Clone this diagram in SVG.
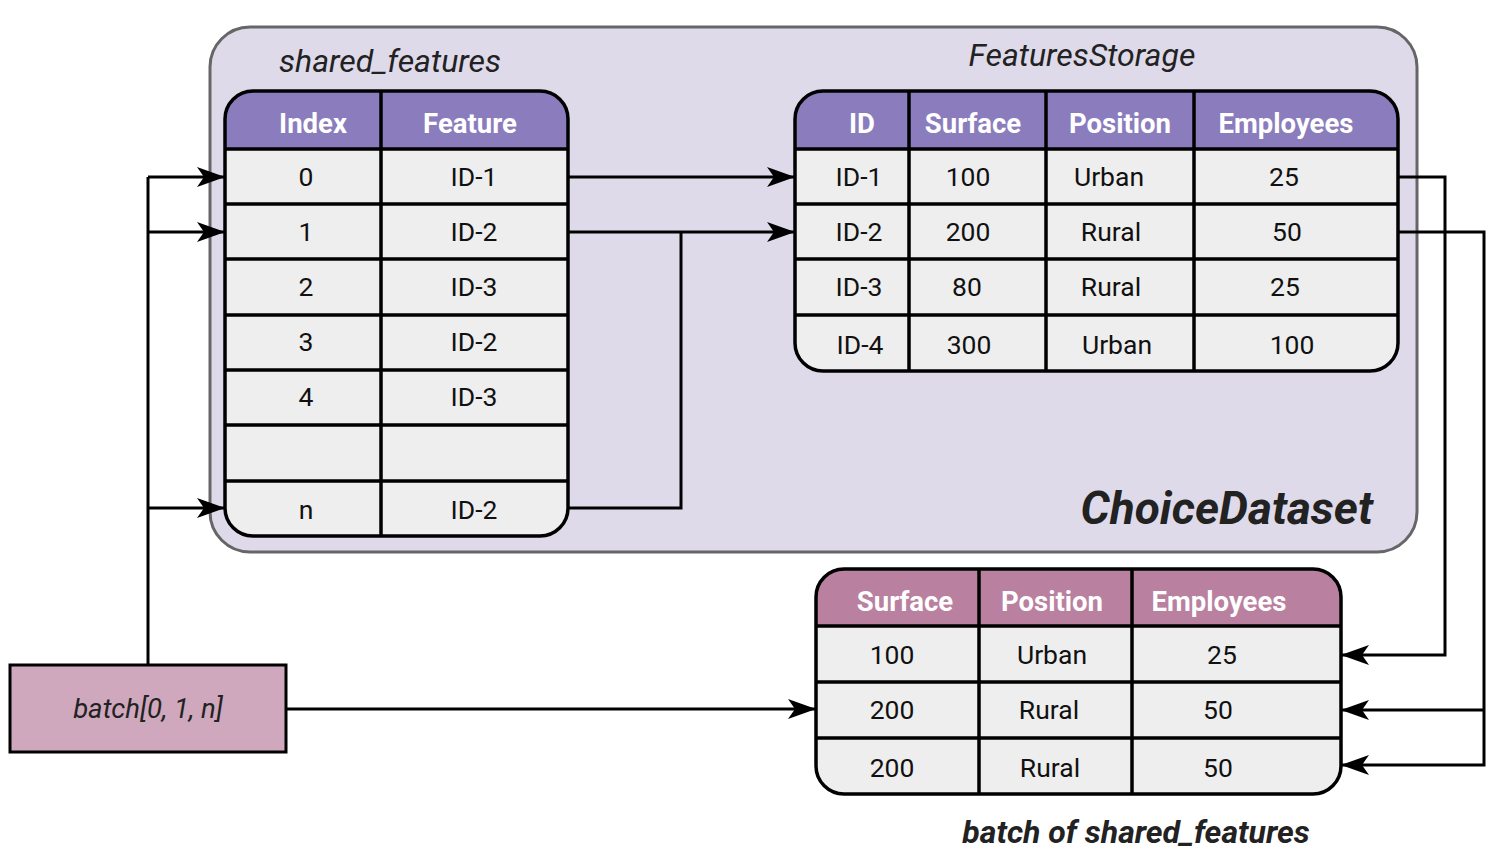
<svg xmlns="http://www.w3.org/2000/svg" width="1508" height="860" viewBox="0 0 1508 860">
<style>
.hd{font-family:Roboto,"Liberation Sans",sans-serif;font-weight:bold;font-size:27.5px;fill:#fff;text-anchor:middle}
.c{font-family:Roboto,"Liberation Sans",sans-serif;font-size:26.5px;fill:#111;text-anchor:middle}
.it{font-family:Roboto,"Liberation Sans",sans-serif;font-style:italic;fill:#222}
.ln{stroke:#000;stroke-width:3.5;fill:none}
.cn{stroke:#000;stroke-width:3;fill:none}
.body{fill:#eeeeee}
.ol{fill:none;stroke:#000;stroke-width:3.5}
</style>
<defs>
<marker id="ah" markerUnits="userSpaceOnUse" markerWidth="30" markerHeight="22" refX="28" refY="11" orient="auto">
<path d="M0,1 L28,11 L0,21 L7,11 Z" fill="#000"/>
</marker>
</defs>

<g id="choicedataset">
<rect x="210" y="27" width="1207" height="525" rx="40" fill="#dedaea" stroke="#666" stroke-width="3"/>
<text class="it" x="390" y="72" font-size="32" text-anchor="middle">shared_features</text>
<text class="it" x="1082" y="66" font-size="32" text-anchor="middle">FeaturesStorage</text>
<text class="it" x="1373" y="524" font-size="46" font-weight="bold" text-anchor="end">ChoiceDataset</text>
</g>

<g id="shared_features">
<rect class="body" x="225" y="91" width="343" height="445" rx="28"/>
<path d="M225,149 V119 A28,28 0 0 1 253,91 H540 A28,28 0 0 1 568,119 V149 Z" fill="#8b7dbd"/>
<path class="ln" d="M381,91 V536 M225,149 H568 M225,204 H568 M225,259 H568 M225,315 H568 M225,370 H568 M225,425 H568 M225,481 H568"/>
<rect class="ol" x="225" y="91" width="343" height="445" rx="28"/>
<text class="hd" x="313" y="133">Index</text>
<text class="hd" x="470" y="133">Feature</text>
<text class="c" x="306" y="186">0</text><text class="c" x="474" y="186">ID-1</text>
<text class="c" x="306" y="241">1</text><text class="c" x="474" y="241">ID-2</text>
<text class="c" x="306" y="296">2</text><text class="c" x="474" y="296">ID-3</text>
<text class="c" x="306" y="351">3</text><text class="c" x="474" y="351">ID-2</text>
<text class="c" x="306" y="406">4</text><text class="c" x="474" y="406">ID-3</text>
<text class="c" x="306" y="519">n</text><text class="c" x="474" y="519">ID-2</text>
</g>

<g id="features_storage">
<rect class="body" x="795" y="91" width="603" height="280" rx="28"/>
<path d="M795,149 V119 A28,28 0 0 1 823,91 H1370 A28,28 0 0 1 1398,119 V149 Z" fill="#8b7dbd"/>
<path class="ln" d="M909,91 V371 M1046,91 V371 M1194,91 V371 M795,149 H1398 M795,204 H1398 M795,259 H1398 M795,315 H1398"/>
<rect class="ol" x="795" y="91" width="603" height="280" rx="28"/>
<text class="hd" x="862" y="133">ID</text>
<text class="hd" x="973" y="133">Surface</text>
<text class="hd" x="1120" y="133">Position</text>
<text class="hd" x="1286" y="133">Employees</text>
<text class="c" x="859" y="186">ID-1</text><text class="c" x="968" y="186">100</text><text class="c" x="1109" y="186">Urban</text><text class="c" x="1284" y="186">25</text>
<text class="c" x="859" y="241">ID-2</text><text class="c" x="968" y="241">200</text><text class="c" x="1111" y="241">Rural</text><text class="c" x="1287" y="241">50</text>
<text class="c" x="859" y="296">ID-3</text><text class="c" x="967" y="296">80</text><text class="c" x="1111" y="296">Rural</text><text class="c" x="1285" y="296">25</text>
<text class="c" x="860" y="354">ID-4</text><text class="c" x="969" y="354">300</text><text class="c" x="1117" y="354">Urban</text><text class="c" x="1292" y="354">100</text>
</g>

<g id="batch_of_shared_features">
<rect class="body" x="816" y="569" width="525" height="225" rx="28"/>
<path d="M816,626 V597 A28,28 0 0 1 844,569 H1313 A28,28 0 0 1 1341,597 V626 Z" fill="#b9809f"/>
<path class="ln" d="M979,569 V794 M1132,569 V794 M816,626 H1341 M816,682 H1341 M816,738 H1341"/>
<rect class="ol" x="816" y="569" width="525" height="225" rx="28"/>
<text class="hd" x="905" y="611">Surface</text>
<text class="hd" x="1052" y="611">Position</text>
<text class="hd" x="1219" y="611">Employees</text>
<text class="c" x="892" y="664">100</text><text class="c" x="1052" y="664">Urban</text><text class="c" x="1222" y="664">25</text>
<text class="c" x="892" y="719">200</text><text class="c" x="1049" y="719">Rural</text><text class="c" x="1218" y="719">50</text>
<text class="c" x="892" y="777">200</text><text class="c" x="1050" y="777">Rural</text><text class="c" x="1218" y="777">50</text>
<text class="it" x="1136" y="843" font-size="32" font-weight="bold" text-anchor="middle">batch of shared_features</text>
</g>

<g id="batch">
<rect x="10" y="665" width="276" height="87" fill="#cfa8bd" stroke="#000" stroke-width="3"/>
<text class="it" x="148" y="718" font-size="27.5" text-anchor="middle">batch[0, 1, n]</text>
</g>

<g id="connectors">
<path class="cn" d="M148,665 V177"/>
<path class="cn" d="M148,177 H225" marker-end="url(#ah)"/>
<path class="cn" d="M148,232 H225" marker-end="url(#ah)"/>
<path class="cn" d="M148,508 H225" marker-end="url(#ah)"/>
<path class="cn" d="M568,177 H795" marker-end="url(#ah)"/>
<path class="cn" d="M568,232 H795" marker-end="url(#ah)"/>
<path class="cn" d="M568,508 H681 V232"/>
<path class="cn" d="M1398,177 H1445 V655 H1341" marker-end="url(#ah)"/>
<path class="cn" d="M1398,232 H1484 V765 H1341" marker-end="url(#ah)"/>
<path class="cn" d="M1484,710 H1341" marker-end="url(#ah)"/>
<path class="cn" d="M286,709 H816" marker-end="url(#ah)"/>
</g>
</svg>
